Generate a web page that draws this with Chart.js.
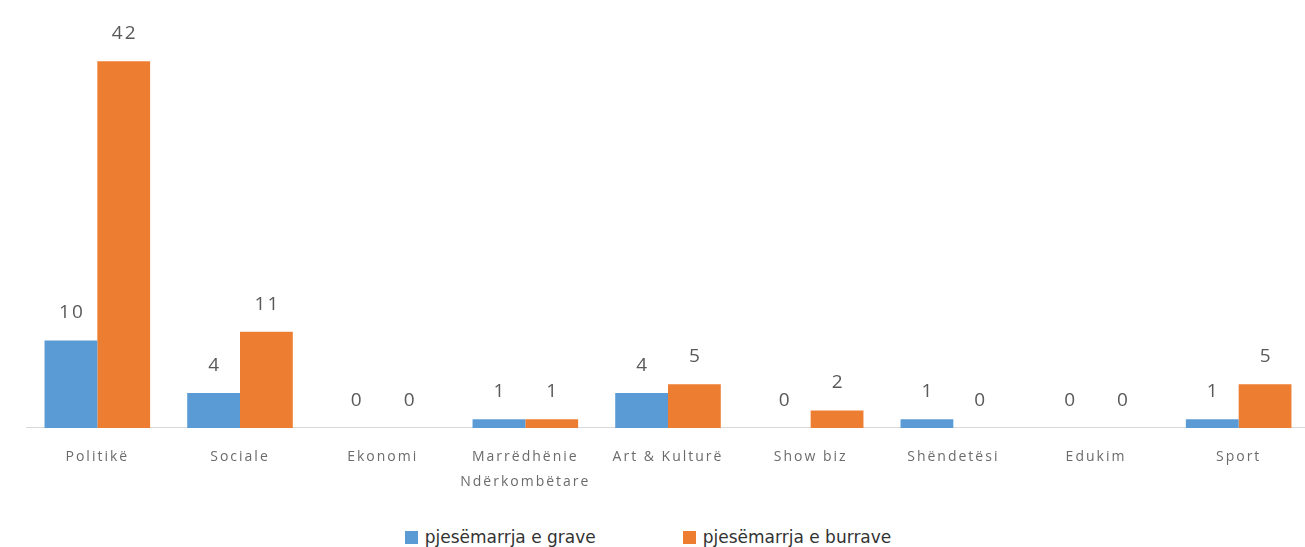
<!DOCTYPE html>
<html>
<head>
<meta charset="utf-8">
<script src="https://cdn.jsdelivr.net/npm/chart.js@4.4.0/dist/chart.umd.min.js"></script>
<style>
  html, body { margin: 0; padding: 0; background: #fff; overflow: hidden; }
  #wrap { width: 1320px; height: 504px; position: relative; }
  #legend {
    position: absolute; left: 0; top: 527px; width: 1296px;
    display: flex; justify-content: center; gap: 87px;
    font: 17px "DejaVu Sans", sans-serif; color: #333; line-height: 20px;
  }
  #legend .item { display: flex; align-items: center; }
  #legend .box { width: 13px; height: 13px; margin-right: 7px; }
</style>
</head>
<body>
<div id="wrap"><canvas id="chart"></canvas></div>
<div id="legend"></div>
<script>
// Kategoritë dhe vlerat
const categories = ['Politikë', 'Sociale', 'Ekonomi', ['Marrëdhënie', 'Ndërkombëtare'], 'Art & Kulturë', 'Show biz', 'Shëndetësi', 'Edukim', 'Sport'];
const womenValues = [10, 4, 0, 1, 4, 0, 1, 0, 1];
const menValues = [42, 11, 0, 1, 5, 2, 0, 0, 5];
const seriesNames = ['pjesëmarrja e grave', 'pjesëmarrja e burrave'];
const seriesColors = ['#5B9BD5', '#ED7D31'];

// Hapësira mes shkronjave (teksti i origjinalit është i zgjeruar)
const spacing = {
  id: 'spacing',
  beforeLayout(chart) { chart.ctx.letterSpacing = '2px'; },
  beforeDraw(chart) { chart.ctx.letterSpacing = '2px'; }
};

// Etiketat mbi shtyllat
const valueLabels = {
  id: 'valueLabels',
  afterDatasetsDraw(chart) {
    const ctx = chart.ctx;
    ctx.save();
    ctx.font = '19px "Open Sans", sans-serif';
    ctx.letterSpacing = '2px';
    ctx.fillStyle = '#595959';
    ctx.textAlign = 'center';
    ctx.textBaseline = 'bottom';
    chart.data.datasets.forEach((ds, i) => {
      chart.getDatasetMeta(i).data.forEach((bar, j) => {
        ctx.fillText(ds.data[j], bar.x + 1, bar.y - 18);
      });
    });
    ctx.restore();
  }
};

const ctx = document.getElementById('chart').getContext('2d');
const chart = new Chart(ctx, {
  type: 'bar',
  data: {
    labels: categories,
    datasets: seriesNames.map((name, i) => ({
      label: name,
      data: i === 0 ? womenValues : menValues,
      backgroundColor: seriesColors[i],
      categoryPercentage: 0.74,
      barPercentage: 1
    }))
  },
  options: {
    responsive: true,
    maintainAspectRatio: false,
    animation: false,
    layout: {
      padding: { left: 26, right: 10, top: 0, bottom: 0 }
    },
    plugins: {
      legend: { display: false },
      tooltip: { enabled: false }
    },
    scales: {
      x: {
        grid: { display: false },
        border: { color: '#d9d9d9' },
        ticks: {
          color: '#6b6b6b',
          padding: 9,
          maxRotation: 0,
          font: { family: '"Open Sans", sans-serif', size: 14, lineHeight: 1.79 }
        }
      },
      y: {
        display: false,
        min: 0,
        max: 49
      }
    }
  },
  plugins: [spacing, valueLabels]
});

// Legjenda
const legend = document.getElementById('legend');
chart.data.datasets.forEach(ds => {
  const item = document.createElement('div');
  item.className = 'item';
  item.innerHTML = '<span class="box" style="background:' + ds.backgroundColor + '"></span>' + ds.label;
  legend.appendChild(item);
});
</script>
</body>
</html>
